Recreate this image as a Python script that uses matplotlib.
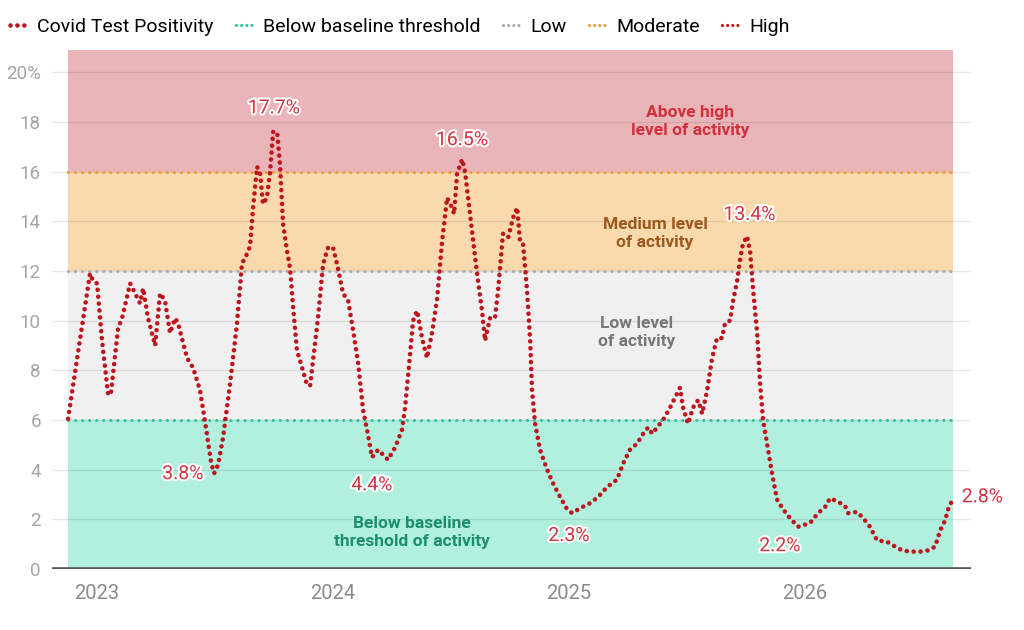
import matplotlib
matplotlib.use("Agg")
import matplotlib.pyplot as plt
import matplotlib.patheffects as pe
from matplotlib.lines import Line2D

plt.rcParams['font.family'] = ['Roboto', 'DejaVu Sans']

# weekly covid test positivity (%), x as decimal year
year_frac = [
    2022.877, 2022.970, 2022.983, 2023.000, 2023.021, 2023.047, 2023.059, 2023.089,
    2023.106, 2023.140, 2023.161, 2023.182, 2023.195, 2023.216, 2023.246, 2023.267,
    2023.288, 2023.309, 2023.331, 2023.343, 2023.381, 2023.407, 2023.436, 2023.458,
    2023.483, 2023.496, 2023.513, 2023.534, 2023.564, 2023.593, 2023.614, 2023.636,
    2023.648, 2023.661, 2023.678, 2023.691, 2023.703, 2023.720, 2023.733, 2023.746,
    2023.763, 2023.775, 2023.788, 2023.805, 2023.818, 2023.831, 2023.847, 2023.869,
    2023.890, 2023.903, 2023.915, 2023.936, 2023.958, 2023.979, 2024.000, 2024.021,
    2024.042, 2024.064, 2024.085, 2024.106, 2024.127, 2024.144, 2024.165, 2024.191,
    2024.212, 2024.233, 2024.263, 2024.292, 2024.305, 2024.318, 2024.339, 2024.356,
    2024.377, 2024.398, 2024.419, 2024.441, 2024.462, 2024.483, 2024.504, 2024.513,
    2024.525, 2024.547, 2024.559, 2024.572, 2024.589, 2024.610, 2024.631, 2024.644,
    2024.665, 2024.686, 2024.699, 2024.720, 2024.742, 2024.763, 2024.780, 2024.792,
    2024.805, 2024.822, 2024.835, 2024.843, 2024.856, 2024.877, 2024.907, 2024.932,
    2024.962, 2024.992, 2025.013, 2025.047, 2025.089, 2025.123, 2025.161, 2025.203,
    2025.229, 2025.258, 2025.288, 2025.314, 2025.335, 2025.352, 2025.373, 2025.398,
    2025.428, 2025.449, 2025.470, 2025.483, 2025.504, 2025.525, 2025.547, 2025.564,
    2025.585, 2025.606, 2025.627, 2025.648, 2025.661, 2025.682, 2025.695, 2025.712,
    2025.725, 2025.737, 2025.754, 2025.767, 2025.780, 2025.797, 2025.809, 2025.822,
    2025.843, 2025.860, 2025.881, 2025.907, 2025.936, 2025.970, 2026.021, 2026.055,
    2026.085, 2026.106, 2026.140, 2026.169, 2026.182, 2026.220, 2026.246, 2026.275,
    2026.305, 2026.347, 2026.373, 2026.411, 2026.445, 2026.487, 2026.521, 2026.551,
    2026.572, 2026.593, 2026.606, 2026.627,
]
positivity = [
    6.05, 11.9, 11.6, 11.5, 9.2, 7.0, 7.1, 9.7,
    10.1, 11.5, 11.1, 10.7, 11.3, 10.1, 9.0, 11.1,
    10.8, 9.5, 10.1, 9.9, 8.5, 8.1, 7.2, 5.9,
    4.3, 3.85, 4.2, 5.3, 7.5, 9.9, 12.3, 12.7,
    13.0, 14.55, 16.2, 15.9, 14.7, 14.95, 16.0, 17.6,
    17.6, 16.3, 13.9, 12.8, 12.1, 10.5, 8.8, 8.1,
    7.4, 7.4, 8.4, 10.1, 12.3, 12.95, 12.95, 12.1,
    11.1, 10.8, 9.6, 8.3, 6.4, 5.6, 4.5, 4.8,
    4.6, 4.4, 4.9, 5.6, 6.5, 7.8, 10.0, 10.4,
    9.3, 8.5, 9.5, 10.9, 13.2, 14.95, 14.55, 14.3,
    15.9, 16.5, 16.0, 14.95, 13.6, 11.9, 10.4, 9.2,
    10.1, 10.1, 11.2, 13.5, 13.35, 14.15, 14.55, 13.2,
    13.1, 11.2, 9.2, 7.2, 5.85, 4.8, 4.0, 3.45,
    2.9, 2.4, 2.25, 2.45, 2.65, 2.9, 3.3, 3.6,
    4.25, 4.8, 5.05, 5.45, 5.7, 5.45, 5.7, 6.0,
    6.5, 6.9, 7.3, 6.5, 5.85, 6.5, 6.8, 6.25,
    7.2, 8.5, 9.3, 9.3, 9.9, 10.0, 10.8, 11.6,
    12.5, 13.1, 13.4, 12.8, 11.2, 9.5, 7.5, 6.0,
    4.8, 3.85, 2.8, 2.4, 2.05, 1.7, 1.85, 2.25,
    2.5, 2.85, 2.7, 2.55, 2.25, 2.3, 2.05, 1.7,
    1.15, 1.1, 0.95, 0.75, 0.7, 0.7, 0.75, 0.9,
    1.55, 1.95, 2.4, 2.85,
]

# activity bands (lower, upper)
band_names = ["Below baseline threshold", "Low", "Moderate", "High"]
band_edges = [(0, 6), (6, 12), (12, 16), (16, 20.9)]
band_fill = ["#b1f0df", "#f0f0f0", "#fad9ad", "#e9b5b8"]
line_cols = ["#35c49c", "#ababab", "#ee9a3e", "#c0141c"]

band_text = ["Below baseline\nthreshold of activity", "Low level\nof activity",
             "Medium level\nof activity", "Above high\nlevel of activity"]
band_text_xy = [(2024.335, 1.45), (2025.288, 9.52), (2025.364, 13.53), (2025.513, 18.03)]
band_text_col = ["#1e8e70", "#777777", "#9b5a1f", "#d0303a"]

callouts = ["17.7%", "16.5%", "13.4%", "3.8%", "4.4%", "2.3%", "2.2%", "2.8%"]
callout_xy = [(2023.75, 18.55), (2024.547, 17.27), (2025.765, 14.26), (2023.364, 3.82),
              (2024.165, 3.37), (2025.0, 1.33), (2025.894, 0.92), (2026.752, 2.89)]

years = [2023, 2024, 2025, 2026]
yticks = list(range(0, 21, 2))

red = "#c0141c"

fig = plt.figure(figsize=(10.24, 6.3), dpi=100)
ax = fig.add_axes([52 / 1024, 1 - 569 / 630, (971 - 52) / 1024, (569 - 50) / 630])

x0, x1 = year_frac[0], year_frac[-1]
for (lo, hi), fc in zip(band_edges, band_fill):
    ax.fill_between([x0, x1], lo, hi, color=fc, lw=0, zorder=0)

for y in yticks[1:]:
    ax.axhline(y, color="black", alpha=0.09, lw=1, zorder=1)

for (lo, hi), lc in zip(band_edges[:3], line_cols[:3]):
    ax.plot([x0, x1], [hi, hi], color=lc, lw=2.3, linestyle=(0, (0.01, 2.2)),
            dash_capstyle="round", zorder=2)

ax.plot(year_frac, positivity, color=red, lw=3.3, linestyle=(0, (0.01, 1.5)),
        dash_capstyle="round", solid_joinstyle="round", zorder=3)

for txt, (tx, ty), tc in zip(band_text, band_text_xy, band_text_col):
    ax.text(tx, ty, txt, ha="center", va="center", color=tc, fontsize=12.5,
            fontweight="bold", linespacing=1.25, zorder=4)

halo = [pe.withStroke(linewidth=3, foreground="white")]
for txt, (tx, ty) in zip(callouts, callout_xy):
    ax.text(tx, ty, txt, ha="center", va="center", color="#d23440", fontsize=14,
            path_effects=halo, zorder=5)

ax.axhline(0, color="#555555", lw=2.6, zorder=6)

ax.set_xlim(2022.809, 2026.703)
ax.set_ylim(0, 20.9)
ax.set_yticks(yticks)
ax.set_yticklabels([str(v) for v in yticks[:-1]] + ["20%"])
ax.set_xticks(years)
ax.set_xticklabels([str(y) for y in years])
ax.tick_params(axis="y", length=0, pad=8, labelsize=13.5, labelcolor="#a5a5a5")
ax.tick_params(axis="x", length=0, pad=11, labelsize=14.5, labelcolor="#8a8a8a")
for s in ax.spines.values():
    s.set_visible(False)

handles = [Line2D([], [], color=red, lw=3.3, linestyle=(0, (0.01, 1.5)),
                  dash_capstyle="round")]
for lc in line_cols:
    handles.append(Line2D([], [], color=lc, lw=2.3, linestyle=(0, (0.01, 1.6)),
                          dash_capstyle="round"))
labels = ["Covid Test Positivity"] + band_names
fig.legend(handles, labels, loc="center left", bbox_to_anchor=(0.002, 1 - 27 / 630),
           ncol=5, frameon=False, fontsize=14, handlelength=1.05,
           handletextpad=0.35, columnspacing=1.15, borderaxespad=0)

fig.savefig("out.png", dpi=100)
